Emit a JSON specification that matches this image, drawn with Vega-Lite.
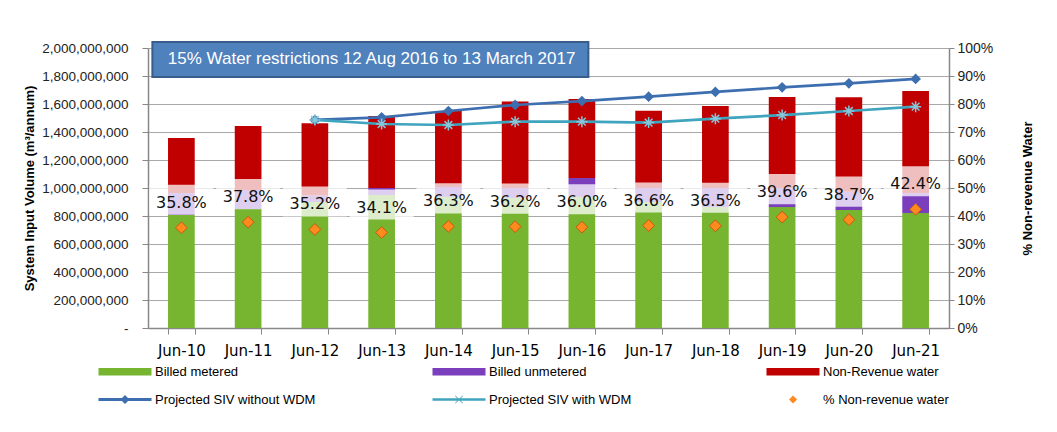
{
  "$schema": "https://vega.github.io/schema/vega-lite/v6.json",
  "width": 801,
  "height": 280,
  "autosize": "none",
  "padding": {"left": 148, "top": 48, "right": 108, "bottom": 104},
  "background": "white",
  "config": {"view": {"stroke": null}, "font": "Liberation Sans"},
  "datasets": {
    "bars": [
      {"cat": "Jun-10", "series": "Billed metered", "k": 1, "v": 807000000},
      {"cat": "Jun-10", "series": "Billed unmetered", "k": 2, "v": 157000000},
      {"cat": "Jun-10", "series": "Non-Revenue water", "k": 3, "v": 393000000},
      {"cat": "Jun-11", "series": "Billed metered", "k": 1, "v": 850000000},
      {"cat": "Jun-11", "series": "Billed unmetered", "k": 2, "v": 136000000},
      {"cat": "Jun-11", "series": "Non-Revenue water", "k": 3, "v": 457000000},
      {"cat": "Jun-12", "series": "Billed metered", "k": 1, "v": 900000000},
      {"cat": "Jun-12", "series": "Billed unmetered", "k": 2, "v": 47000000},
      {"cat": "Jun-12", "series": "Non-Revenue water", "k": 3, "v": 515000000},
      {"cat": "Jun-13", "series": "Billed metered", "k": 1, "v": 950000000},
      {"cat": "Jun-13", "series": "Billed unmetered", "k": 2, "v": 50000000},
      {"cat": "Jun-13", "series": "Non-Revenue water", "k": 3, "v": 514000000},
      {"cat": "Jun-14", "series": "Billed metered", "k": 1, "v": 936000000},
      {"cat": "Jun-14", "series": "Billed unmetered", "k": 2, "v": 71000000},
      {"cat": "Jun-14", "series": "Non-Revenue water", "k": 3, "v": 543000000},
      {"cat": "Jun-15", "series": "Billed metered", "k": 1, "v": 929000000},
      {"cat": "Jun-15", "series": "Billed unmetered", "k": 2, "v": 71000000},
      {"cat": "Jun-15", "series": "Non-Revenue water", "k": 3, "v": 617000000},
      {"cat": "Jun-16", "series": "Billed metered", "k": 1, "v": 936000000},
      {"cat": "Jun-16", "series": "Billed unmetered", "k": 2, "v": 136000000},
      {"cat": "Jun-16", "series": "Non-Revenue water", "k": 3, "v": 564000000},
      {"cat": "Jun-17", "series": "Billed metered", "k": 1, "v": 900000000},
      {"cat": "Jun-17", "series": "Billed unmetered", "k": 2, "v": 100000000},
      {"cat": "Jun-17", "series": "Non-Revenue water", "k": 3, "v": 552000000},
      {"cat": "Jun-18", "series": "Billed metered", "k": 1, "v": 864000000},
      {"cat": "Jun-18", "series": "Billed unmetered", "k": 2, "v": 136000000},
      {"cat": "Jun-18", "series": "Non-Revenue water", "k": 3, "v": 586000000},
      {"cat": "Jun-19", "series": "Billed metered", "k": 1, "v": 864000000},
      {"cat": "Jun-19", "series": "Billed unmetered", "k": 2, "v": 136000000},
      {"cat": "Jun-19", "series": "Non-Revenue water", "k": 3, "v": 650000000},
      {"cat": "Jun-20", "series": "Billed metered", "k": 1, "v": 843000000},
      {"cat": "Jun-20", "series": "Billed unmetered", "k": 2, "v": 131000000},
      {"cat": "Jun-20", "series": "Non-Revenue water", "k": 3, "v": 675000000},
      {"cat": "Jun-21", "series": "Billed metered", "k": 1, "v": 821000000},
      {"cat": "Jun-21", "series": "Billed unmetered", "k": 2, "v": 143000000},
      {"cat": "Jun-21", "series": "Non-Revenue water", "k": 3, "v": 729000000}
    ],
    "lines": [
      {"cat": "Jun-12", "series": "Projected SIV without WDM", "v": 1486000000},
      {"cat": "Jun-13", "series": "Projected SIV without WDM", "v": 1505000000},
      {"cat": "Jun-14", "series": "Projected SIV without WDM", "v": 1550000000},
      {"cat": "Jun-15", "series": "Projected SIV without WDM", "v": 1593000000},
      {"cat": "Jun-16", "series": "Projected SIV without WDM", "v": 1621000000},
      {"cat": "Jun-17", "series": "Projected SIV without WDM", "v": 1652000000},
      {"cat": "Jun-18", "series": "Projected SIV without WDM", "v": 1686000000},
      {"cat": "Jun-19", "series": "Projected SIV without WDM", "v": 1719000000},
      {"cat": "Jun-20", "series": "Projected SIV without WDM", "v": 1748000000},
      {"cat": "Jun-21", "series": "Projected SIV without WDM", "v": 1779000000},
      {"cat": "Jun-12", "series": "Projected SIV with WDM", "v": 1486000000},
      {"cat": "Jun-13", "series": "Projected SIV with WDM", "v": 1457000000},
      {"cat": "Jun-14", "series": "Projected SIV with WDM", "v": 1450000000},
      {"cat": "Jun-15", "series": "Projected SIV with WDM", "v": 1474000000},
      {"cat": "Jun-16", "series": "Projected SIV with WDM", "v": 1474000000},
      {"cat": "Jun-17", "series": "Projected SIV with WDM", "v": 1467000000},
      {"cat": "Jun-18", "series": "Projected SIV with WDM", "v": 1495000000},
      {"cat": "Jun-19", "series": "Projected SIV with WDM", "v": 1521000000},
      {"cat": "Jun-20", "series": "Projected SIV with WDM", "v": 1550000000},
      {"cat": "Jun-21", "series": "Projected SIV with WDM", "v": 1581000000}
    ],
    "pct": [
      {"cat": "Jun-10", "series": "% Non-revenue water", "p": 0.358},
      {"cat": "Jun-11", "series": "% Non-revenue water", "p": 0.378},
      {"cat": "Jun-12", "series": "% Non-revenue water", "p": 0.352},
      {"cat": "Jun-13", "series": "% Non-revenue water", "p": 0.341},
      {"cat": "Jun-14", "series": "% Non-revenue water", "p": 0.363},
      {"cat": "Jun-15", "series": "% Non-revenue water", "p": 0.362},
      {"cat": "Jun-16", "series": "% Non-revenue water", "p": 0.360},
      {"cat": "Jun-17", "series": "% Non-revenue water", "p": 0.366},
      {"cat": "Jun-18", "series": "% Non-revenue water", "p": 0.365},
      {"cat": "Jun-19", "series": "% Non-revenue water", "p": 0.396},
      {"cat": "Jun-20", "series": "% Non-revenue water", "p": 0.387},
      {"cat": "Jun-21", "series": "% Non-revenue water", "p": 0.424}
    ]
  },
  "layer": [
    {
      "layer": [
        {
          "data": {"name": "bars"},
          "mark": {"type": "bar"},
          "encoding": {
            "x": {
              "field": "cat", "type": "nominal",
              "scale": {"paddingInner": 0.6, "paddingOuter": 0.3},
              "axis": {"title": null, "labelAngle": 0, "labelFont": "DejaVu Sans", "labelFontSize": 15, "labelColor": "#000", "tickBand": "extent", "tickSize": 6, "tickColor": "#888", "domainColor": "#888", "domainWidth": 1.5, "labelPadding": 9, "grid": false}
            },
            "y": {
              "field": "v", "type": "quantitative", "stack": "zero",
              "scale": {"domain": [0, 2000000000], "nice": false},
              "axis": {"orient": "left", "title": "System Input Volume (m³/annum)", "titleFont": "Liberation Sans", "titleFontSize": 13, "titleFontWeight": "bold", "titleColor": "#000", "titlePadding": 5, "labelFont": "Liberation Sans", "labelFontSize": 13.5, "labelColor": "#222", "labelExpr": "datum.value == 0 ? '-' : format(datum.value, ',')", "tickCount": 10, "tickSize": 6, "labelPadding": 14, "tickColor": "#888", "domainColor": "#888", "domainWidth": 1.5, "grid": true, "gridColor": "#A8A8A8", "gridWidth": 1}
            },
            "color": {
              "field": "series", "type": "nominal",
              "scale": {
                "domain": ["Billed metered", "Billed unmetered", "Non-Revenue water", "Projected SIV without WDM", "Projected SIV with WDM", "% Non-revenue water"],
                "range": ["#77B530", "#7B3FBE", "#C00000", "#3D6FB0", "#3FA4BE", "#FF8A1E"]
              },
              "legend": {
                "orient": "none", "legendX": -51, "legendY": 317, "direction": "horizontal", "columns": 3, "title": null,
                "columnPadding": 115, "rowPadding": 14, "gridAlign": "all", "symbolSize": 100,
                "labelFont": "Liberation Sans", "labelFontSize": 13, "labelColor": "#000", "labelOffset": 45, "labelLimit": 300,
                "symbolStrokeWidth": 0,
                "encode": {
                  "symbols": {
                    "update": {
                      "shape": {"signal": "indexof(['Billed metered','Billed unmetered','Non-Revenue water'], datum.value) >= 0 ? 'M-1,-0.75H9.6V0.75H-1Z' : (datum.value == '% Non-revenue water' ? 'M4.3,-0.8L5.1,0L4.3,0.8L3.5,0Z' : (datum.value == 'Projected SIV without WDM' ? 'M-1,-0.28H9.6V0.28H-1Z M4.3,-0.9L5.2,0L4.3,0.9L3.4,0Z' : 'M-1,-0.25H9.6V0.25H-1Z M3.6,-0.8L4.3,-0.1L5,-0.8L5.1,-0.7L4.4,0L5.1,0.7L5,0.8L4.3,0.1L3.6,0.8L3.5,0.7L4.2,0L3.5,-0.7Z'))"},
                      "fill": {"scale": "color", "field": "value"},
                      "opacity": {"value": 1}
                    }
                  }
                }
              }
            },
            "order": {"field": "k", "type": "quantitative"}
          }
        },
        {
          "data": {"name": "lines"},
          "mark": {"type": "line", "strokeWidth": 2.7},
          "encoding": {
            "x": {"field": "cat", "type": "nominal", "title": null},
            "y": {"field": "v", "type": "quantitative"},
            "color": {"field": "series", "type": "nominal"}
          }
        },
        {
          "data": {"name": "lines"},
          "transform": [{"filter": "datum.series == 'Projected SIV without WDM'"}],
          "mark": {"type": "point", "shape": "diamond", "filled": true, "size": 115, "opacity": 1},
          "encoding": {
            "x": {"field": "cat", "type": "nominal", "title": null},
            "y": {"field": "v", "type": "quantitative"},
            "color": {"field": "series", "type": "nominal"}
          }
        },
        {
          "data": {"name": "lines"},
          "transform": [{"filter": "datum.series == 'Projected SIV with WDM'"}],
          "mark": {"type": "point", "shape": "M-1,0H1M0,-1V1M-0.7,-0.7L0.7,0.7M-0.7,0.7L0.7,-0.7", "filled": false, "size": 121, "strokeWidth": 1.5, "opacity": 1, "color": "#86C6DA"},
          "encoding": {
            "x": {"field": "cat", "type": "nominal", "title": null},
            "y": {"field": "v", "type": "quantitative"}
          }
        },
        {
          "data": {"values": [{}]},
          "mark": {"type": "rect", "fill": "#4F81BD", "stroke": "#385D8A", "strokeWidth": 2, "xOffset": -29, "x2Offset": 6.5, "yOffset": -6},
          "encoding": {
            "x": {"datum": "Jun-10"},
            "x2": {"datum": "Jun-16"},
            "y": {"datum": 2000000000},
            "y2": {"datum": 1793000000}
          }
        },
        {
          "data": {"values": [{}]},
          "mark": {"type": "text", "text": "15% Water restrictions 12 Aug 2016 to 13 March 2017", "font": "Liberation Sans", "fontSize": 17, "color": "white", "align": "center", "baseline": "middle", "dx": -10},
          "encoding": {
            "x": {"datum": "Jun-13"},
            "y": {"datum": 1918000000}
          }
        }
      ]
    },
    {
      "layer": [
        {
          "data": {"name": "pct"},
          "mark": {"type": "point", "shape": "M-1,-0.47H1V0.47H-1Z", "filled": true, "color": "white", "opacity": 0.75, "size": 4096, "yOffset": -28, "strokeWidth": 0},
          "encoding": {
            "x": {"field": "cat", "type": "nominal", "title": null},
            "y": {
              "field": "p", "type": "quantitative",
              "scale": {"domain": [0, 1], "nice": false},
              "axis": {"orient": "right", "format": ".0%", "title": "% Non-revenue Water", "titleAngle": 270, "titleFont": "Liberation Sans", "titleFontSize": 13, "titleFontWeight": "bold", "titleColor": "#000", "titlePadding": 42, "labelFont": "Liberation Sans", "labelFontSize": 14, "labelColor": "#222", "tickCount": 10, "tickSize": 5, "labelPadding": 3, "tickColor": "#888", "domainColor": "#888", "domainWidth": 1.5, "grid": false}
            }
          }
        },
        {
          "data": {"name": "pct"},
          "mark": {"type": "text", "font": "DejaVu Sans", "fontSize": 16, "color": "#111", "baseline": "middle", "align": "center", "dy": -25},
          "encoding": {
            "x": {"field": "cat", "type": "nominal", "title": null},
            "y": {"field": "p", "type": "quantitative"},
            "text": {"field": "p", "type": "quantitative", "format": ".1%"}
          }
        },
        {
          "data": {"name": "pct"},
          "mark": {"type": "point", "shape": "diamond", "filled": true, "size": 140, "opacity": 1, "stroke": "#C55A11", "strokeWidth": 1},
          "encoding": {
            "x": {"field": "cat", "type": "nominal", "title": null},
            "y": {"field": "p", "type": "quantitative"},
            "color": {"field": "series", "type": "nominal"}
          }
        }
      ]
    }
  ],
  "resolve": {"scale": {"y": "independent"}}
}
